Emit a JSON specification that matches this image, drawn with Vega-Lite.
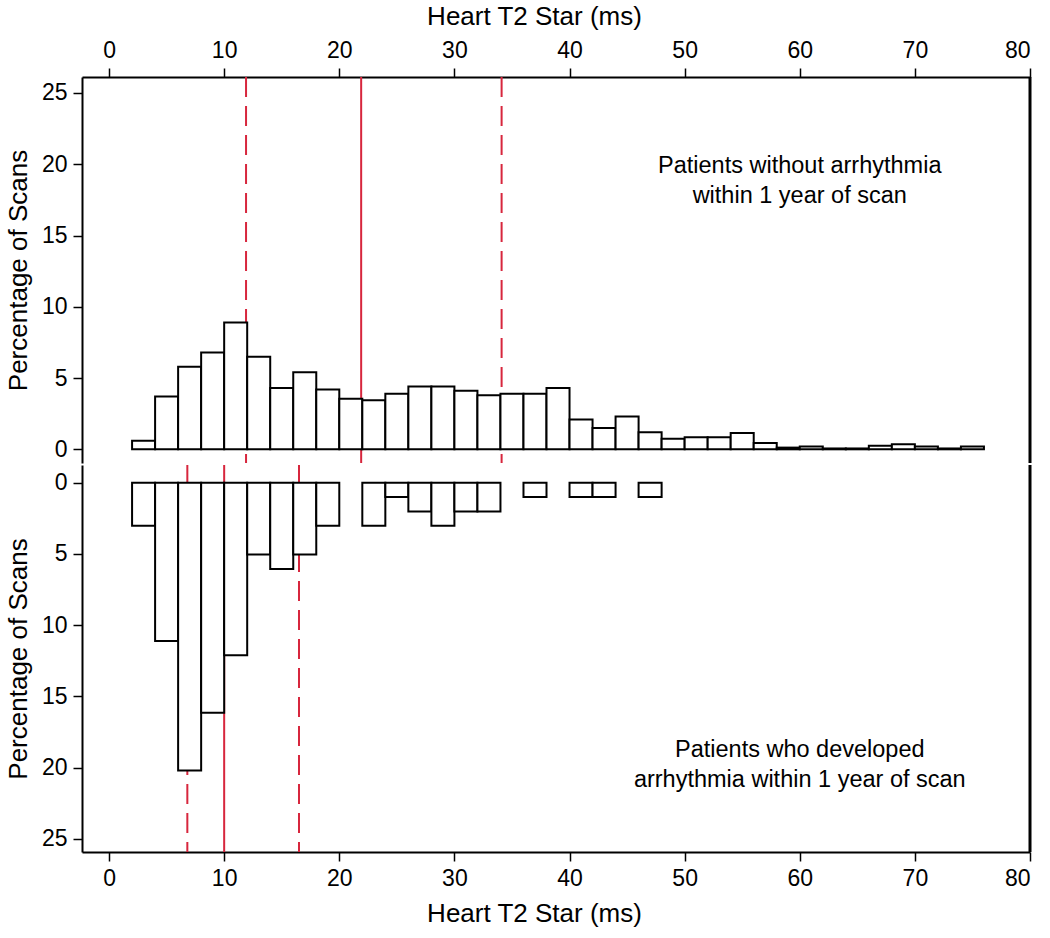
{
  "$schema": "https://vega.github.io/schema/vega-lite/v6.json",
  "padding": {"left": 5, "top": 3, "right": 18, "bottom": 5},
  "spacing": -4,
  "config": {
    "view": {"stroke": null},
    "font": "Liberation Sans",
    "axis": {
      "grid": false,
      "domainColor": "#000",
      "domainWidth": 2,
      "tickColor": "#000",
      "tickWidth": 1.5,
      "labelFont": "Liberation Sans",
      "labelFontSize": 23,
      "labelColor": "#000",
      "titleFont": "Liberation Sans",
      "titleFontSize": 26,
      "titleFontWeight": "normal",
      "titleColor": "#000"
    }
  },
  "datasets": {
    "without": [
      {"lo": 2, "hi": 4, "pct": 0.6},
      {"lo": 4, "hi": 6, "pct": 3.7},
      {"lo": 6, "hi": 8, "pct": 5.8},
      {"lo": 8, "hi": 10, "pct": 6.8},
      {"lo": 10, "hi": 12, "pct": 8.9},
      {"lo": 12, "hi": 14, "pct": 6.5},
      {"lo": 14, "hi": 16, "pct": 4.3},
      {"lo": 16, "hi": 18, "pct": 5.4},
      {"lo": 18, "hi": 20, "pct": 4.2},
      {"lo": 20, "hi": 22, "pct": 3.55},
      {"lo": 22, "hi": 24, "pct": 3.45},
      {"lo": 24, "hi": 26, "pct": 3.9},
      {"lo": 26, "hi": 28, "pct": 4.4},
      {"lo": 28, "hi": 30, "pct": 4.4},
      {"lo": 30, "hi": 32, "pct": 4.1},
      {"lo": 32, "hi": 34, "pct": 3.8},
      {"lo": 34, "hi": 36, "pct": 3.9},
      {"lo": 36, "hi": 38, "pct": 3.9},
      {"lo": 38, "hi": 40, "pct": 4.3},
      {"lo": 40, "hi": 42, "pct": 2.1},
      {"lo": 42, "hi": 44, "pct": 1.5},
      {"lo": 44, "hi": 46, "pct": 2.3},
      {"lo": 46, "hi": 48, "pct": 1.2},
      {"lo": 48, "hi": 50, "pct": 0.75},
      {"lo": 50, "hi": 52, "pct": 0.85},
      {"lo": 52, "hi": 54, "pct": 0.85},
      {"lo": 54, "hi": 56, "pct": 1.15},
      {"lo": 56, "hi": 58, "pct": 0.45},
      {"lo": 58, "hi": 60, "pct": 0.12},
      {"lo": 60, "hi": 62, "pct": 0.2},
      {"lo": 62, "hi": 64, "pct": 0.06},
      {"lo": 64, "hi": 66, "pct": 0.06},
      {"lo": 66, "hi": 68, "pct": 0.25},
      {"lo": 68, "hi": 70, "pct": 0.35},
      {"lo": 70, "hi": 72, "pct": 0.2},
      {"lo": 72, "hi": 74, "pct": 0.06},
      {"lo": 74, "hi": 76, "pct": 0.2}
    ],
    "with": [
      {"lo": 2, "hi": 4, "pct": 3.03},
      {"lo": 4, "hi": 6, "pct": 11.11},
      {"lo": 6, "hi": 8, "pct": 20.2},
      {"lo": 8, "hi": 10, "pct": 16.16},
      {"lo": 10, "hi": 12, "pct": 12.12},
      {"lo": 12, "hi": 14, "pct": 5.05},
      {"lo": 14, "hi": 16, "pct": 6.06},
      {"lo": 16, "hi": 18, "pct": 5.05},
      {"lo": 18, "hi": 20, "pct": 3.03},
      {"lo": 22, "hi": 24, "pct": 3.03},
      {"lo": 24, "hi": 26, "pct": 1.01},
      {"lo": 26, "hi": 28, "pct": 2.02},
      {"lo": 28, "hi": 30, "pct": 3.03},
      {"lo": 30, "hi": 32, "pct": 2.02},
      {"lo": 32, "hi": 34, "pct": 2.02},
      {"lo": 36, "hi": 38, "pct": 1.01},
      {"lo": 40, "hi": 42, "pct": 1.01},
      {"lo": 42, "hi": 44, "pct": 1.01},
      {"lo": 46, "hi": 48, "pct": 1.01}
    ],
    "linesTop": [
      {"v": 11.9, "kind": "dashed"},
      {"v": 21.9, "kind": "solid"},
      {"v": 34.1, "kind": "dashed"}
    ],
    "linesBottom": [
      {"v": 6.8, "kind": "dashed"},
      {"v": 10.0, "kind": "solid"},
      {"v": 16.5, "kind": "dashed"}
    ]
  },
  "vconcat": [
    {
      "width": 948,
      "height": 386,
      "layer": [
        {
          "data": {"name": "linesTop"},
          "mark": {"type": "rule", "color": "#d7263d", "strokeWidth": 2},
          "encoding": {
            "x": {"field": "v", "type": "quantitative"},
            "strokeDash": {"field": "kind", "type": "nominal", "scale": {"domain": ["solid", "dashed"], "range": [[1, 0], [20, 9]]}, "legend": null}
          }
        },
        {
          "data": {"name": "without"},
          "mark": {"type": "bar", "fill": "white", "stroke": "black", "strokeWidth": 2},
          "encoding": {
            "x": {
              "field": "lo", "type": "quantitative",
              "scale": {"domain": [-2.35, 80], "nice": false, "zero": false},
              "axis": {"orient": "top", "title": "Heart T2 Star (ms)", "titleX": 452, "values": [0, 10, 20, 30, 40, 50, 60, 70, 80], "tickSize": 9, "labelPadding": 6, "titlePadding": 10}
            },
            "x2": {"field": "hi"},
            "y": {
              "field": "pct", "type": "quantitative",
              "scale": {"domain": [-0.96, 26.12], "nice": false, "zero": false},
              "axis": {"title": "Percentage of Scans", "values": [0, 5, 10, 15, 20, 25], "tickSize": 9, "labelPadding": 6, "titlePadding": 10}
            },
            "y2": {"datum": 0}
          }
        },
        {
          "data": {"values": [{}]},
          "mark": {"type": "rule", "color": "black", "strokeWidth": 3},
          "encoding": {"x": {"datum": 80}}
        },
        {
          "data": {"values": [{}]},
          "mark": {"type": "text", "font": "Liberation Sans", "fontSize": 23.5, "lineHeight": 30, "align": "center", "baseline": "middle", "lineBreak": "\n", "color": "black"},
          "encoding": {
            "x": {"datum": 60},
            "y": {"datum": 19.85},
            "text": {"value": "Patients without arrhythmia\nwithin 1 year of scan"}
          }
        }
      ]
    },
    {
      "width": 948,
      "height": 387,
      "layer": [
        {
          "data": {"name": "linesBottom"},
          "mark": {"type": "rule", "color": "#d7263d", "strokeWidth": 2},
          "encoding": {
            "x": {"field": "v", "type": "quantitative"},
            "strokeDash": {"field": "kind", "type": "nominal", "scale": {"domain": ["solid", "dashed"], "range": [[1, 0], [20, 9]]}, "legend": null}
          }
        },
        {
          "data": {"name": "with"},
          "mark": {"type": "bar", "fill": "white", "stroke": "black", "strokeWidth": 2},
          "encoding": {
            "x": {
              "field": "lo", "type": "quantitative",
              "scale": {"domain": [-2.35, 80], "nice": false, "zero": false},
              "axis": {"orient": "bottom", "title": "Heart T2 Star (ms)", "titleX": 452, "values": [0, 10, 20, 30, 40, 50, 60, 70, 80], "tickSize": 9, "labelPadding": 6, "titlePadding": 10}
            },
            "x2": {"field": "hi"},
            "y": {
              "field": "pct", "type": "quantitative",
              "scale": {"domain": [-1.24, 25.93], "nice": false, "zero": false, "reverse": true},
              "axis": {"title": "Percentage of Scans", "values": [0, 5, 10, 15, 20, 25], "tickSize": 9, "labelPadding": 6, "titlePadding": 10}
            },
            "y2": {"datum": 0}
          }
        },
        {
          "data": {"values": [{}]},
          "mark": {"type": "rule", "color": "black", "strokeWidth": 3},
          "encoding": {"x": {"datum": 80}}
        },
        {
          "data": {"values": [{}]},
          "mark": {"type": "text", "font": "Liberation Sans", "fontSize": 23.5, "lineHeight": 30, "align": "center", "baseline": "middle", "lineBreak": "\n", "color": "black"},
          "encoding": {
            "x": {"datum": 60},
            "y": {"datum": 18.74},
            "text": {"value": "Patients who developed\narrhythmia within 1 year of scan"}
          }
        }
      ]
    }
  ]
}
